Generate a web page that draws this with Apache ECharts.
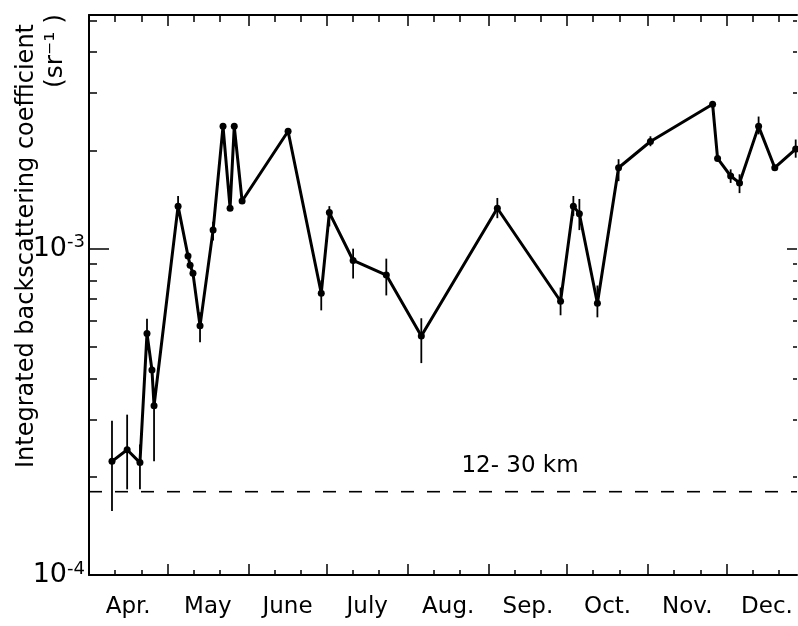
<!DOCTYPE html>
<html>
<head>
<meta charset="utf-8">
<script src="https://cdn.jsdelivr.net/npm/echarts@6/dist/echarts.min.js"></script>
<style>
  html, body { margin: 0; padding: 0; background: #fff; }
  #chart { width: 798px; height: 626px; }
</style>
</head>
<body>
<div id="chart"></div>
<script>
// x = days counted from 1 April
const monthNames = ["Apr.", "May", "June", "July", "Aug.", "Sep.", "Oct.", "Nov.", "Dec."];
const monthStarts = [0, 30, 61, 91, 122, 153, 183, 214, 244];
const monthLengths = [30, 31, 30, 31, 31, 30, 31, 30, 31];

const obsDays = [8.8, 14.6, 19.5, 22.2, 24.1, 24.9, 34.1, 37.9, 38.7, 39.8, 42.5, 47.5,
  51.3, 54.0, 55.6, 58.6, 76.2, 88.9, 92.0, 101.1, 113.8, 127.2, 156.3, 180.5,
  185.4, 187.7, 194.6, 202.7, 214.9, 238.7, 240.6, 245.6, 249.0, 256.3, 262.5, 270.5];
const obsValues = [2.23e-4, 2.42e-4, 2.21e-4, 5.5e-4, 4.25e-4, 3.3e-4, 1.35e-3, 9.5e-4, 8.9e-4, 8.4e-4, 5.8e-4, 1.14e-3,
  2.37e-3, 1.33e-3, 2.37e-3, 1.40e-3, 2.29e-3, 7.3e-4, 1.29e-3, 9.2e-4, 8.3e-4, 5.4e-4, 1.33e-3, 6.9e-4,
  1.35e-3, 1.28e-3, 6.8e-4, 1.77e-3, 2.13e-3, 2.77e-3, 1.89e-3, 1.67e-3, 1.59e-3, 2.37e-3, 1.77e-3, 2.02e-3];
// error bar ends (null = no bar drawn)
const errLow = [1.57e-4, 1.83e-4, 1.83e-4, 4.9e-4, null, 2.23e-4, 1.26e-3, null, null, null, 5.17e-4, 1.06e-3,
  null, null, null, null, null, 6.47e-4, 1.17e-3, 8.1e-4, 7.19e-4, 4.46e-4, 1.24e-3, 6.25e-4,
  1.26e-3, 1.14e-3, 6.16e-4, 1.61e-3, 2.06e-3, null, null, 1.59e-3, 1.48e-3, 2.24e-3, null, 1.9e-3];
const errHigh = [2.97e-4, 3.1e-4, 2.51e-4, 6.1e-4, null, 3.56e-4, 1.45e-3, null, null, null, 6.38e-4, 1.21e-3,
  null, null, null, null, null, 7.99e-4, 1.35e-3, 1.0e-3, 9.32e-4, 6.12e-4, 1.43e-3, 7.6e-4,
  1.45e-3, 1.42e-3, 7.71e-4, 1.88e-3, 2.21e-3, null, null, 1.75e-3, 1.69e-3, 2.54e-3, null, 2.16e-3];

const refLevel = 1.8e-4;   // dashed 12-30 km background line
const decadeTicks = [1e-4, 1e-3];
const minorTicks = [2e-4, 3e-4, 4e-4, 5e-4, 6e-4, 7e-4, 8e-4, 9e-4, 2e-3, 3e-3, 4e-3, 5e-3];

const FONT = "DejaVu Sans";
const X_MIN = 0, X_MAX = 271;
const Y_MIN = 1e-4, Y_MAX = 5.2e-3;

const tenDayTicks = [];
monthStarts.forEach(function (s) {
  tenDayTicks.push(s + 10, s + 20);
});
const labelDays = monthStarts.map(function (s, i) { return s + monthLengths[i] / 2; });

const lineData = obsDays.map(function (d, i) { return [d, obsValues[i]]; });
const errData = [];
obsDays.forEach(function (d, i) {
  if (errLow[i] != null) errData.push([d, errLow[i], errHigh[i]]);
});
const refData = [[X_MIN, refLevel], [X_MAX, refLevel]];

function xAxisBase(pos, ticks, len, showLine) {
  return {
    type: "value", position: pos, min: X_MIN, max: X_MAX,
    axisLine: { show: showLine, onZero: false, lineStyle: { color: "#000", width: 2 } },
    axisTick: { show: true, inside: true, length: len, customValues: ticks,
      lineStyle: { color: "#000", width: 1.5 } },
    axisLabel: { show: false },
    splitLine: { show: false }
  };
}
function yAxisBase(pos, ticks, len, showLine) {
  return {
    type: "log", position: pos, min: Y_MIN, max: Y_MAX, logBase: 10,
    axisLine: { show: showLine, onZero: false, lineStyle: { color: "#000", width: 2 } },
    axisTick: { show: true, inside: true, length: len, customValues: ticks,
      lineStyle: { color: "#000", width: 1.5 } },
    axisLabel: { show: false },
    splitLine: { show: false },
    minorTick: { show: false }
  };
}

const xMain = xAxisBase("bottom", monthStarts, 11, true);
xMain.axisLabel = {
  show: true, customValues: labelDays, margin: 21,
  color: "#000", fontFamily: FONT, fontSize: 23,
  formatter: function (v) {
    const i = labelDays.indexOf(v);
    return i >= 0 ? monthNames[i] : "";
  }
};

const yMain = yAxisBase("left", decadeTicks, 20, true);
yMain.axisLabel = {
  show: true, customValues: decadeTicks, margin: 4,
  formatter: function (v) {
    const e = Math.round(Math.log10(v));
    return "{b|10}{s|-" + Math.abs(e) + "}";
  },
  rich: {
    b: { fontFamily: FONT, fontSize: 27, color: "#000", lineHeight: 30 },
    s: { fontFamily: FONT, fontSize: 18, color: "#000", verticalAlign: "top", lineHeight: 18 }
  }
};

const chart = echarts.init(document.getElementById("chart"));
chart.setOption({
  animation: false,
  backgroundColor: "#fff",
  grid: { left: 89, right: 1, top: 15, bottom: 51, containLabel: false },
  xAxis: [
    xMain,
    xAxisBase("bottom", tenDayTicks, 5, false),
    xAxisBase("top", monthStarts, 11, true),
    xAxisBase("top", tenDayTicks, 7, false)
  ],
  yAxis: [
    yMain,
    yAxisBase("left", minorTicks, 8, false),
    yAxisBase("right", decadeTicks, 10, false),
    yAxisBase("right", minorTicks, 4, false)
  ],
  series: [
    {
      type: "line", xAxisIndex: 0, yAxisIndex: 0,
      data: lineData,
      symbol: "circle", symbolSize: 7,
      itemStyle: { color: "#000" },
      lineStyle: { color: "#000", width: 3 },
      z: 3
    },
    {
      type: "custom", xAxisIndex: 0, yAxisIndex: 0,
      data: errData,
      encode: { x: 0, y: [1, 2] },
      renderItem: function (params, api) {
        const p1 = api.coord([api.value(0), api.value(1)]);
        const p2 = api.coord([api.value(0), api.value(2)]);
        return {
          type: "line",
          shape: { x1: p1[0], y1: p1[1], x2: p2[0], y2: p2[1] },
          style: { stroke: "#000", lineWidth: 1.8 }
        };
      },
      z: 2
    },
    {
      type: "line", xAxisIndex: 0, yAxisIndex: 0,
      data: refData,
      symbol: "none", silent: true,
      lineStyle: { color: "#000", width: 1.6, type: [13, 13] },
      z: 1
    }
  ],
  graphic: [
    {
      type: "text", x: 27, y: 24, rotation: Math.PI / 2,
      style: { text: "Integrated backscattering coefficient", font: "24px " + FONT,
        fill: "#000", align: "right", verticalAlign: "middle" }
    },
    {
      type: "text", x: 55, y: 14, rotation: Math.PI / 2,
      style: { text: "(sr\u207B\u00B9 )", font: "25px " + FONT,
        fill: "#000", align: "right", verticalAlign: "middle" }
    },
    {
      type: "text", x: 520, y: 466,
      style: { text: "12- 30 km", font: "23px " + FONT,
        fill: "#000", align: "center", verticalAlign: "middle" }
    }
  ]
});
</script>
</body>
</html>
